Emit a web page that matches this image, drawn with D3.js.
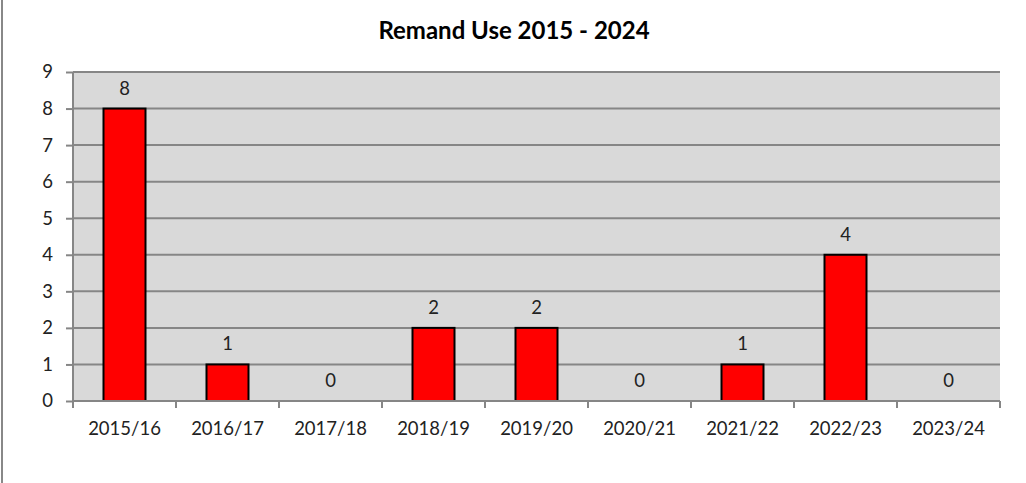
<!DOCTYPE html>
<html><head><meta charset="utf-8">
<script src="https://cdn.jsdelivr.net/npm/d3@7"></script>
<style>body{margin:0;background:#fff;} svg{display:block;}</style>
</head><body>
<svg id="chart" width="1026" height="483"></svg>
<script>
const categories = ["2015/16","2016/17","2017/18","2018/19","2019/20","2020/21","2021/22","2022/23","2023/24"];
const values = [8,1,0,2,2,0,1,4,0];
const yTicks = [0,1,2,3,4,5,6,7,8,9];
const title = "Remand Use 2015 - 2024";

const svg = d3.select("#chart");
const font = "Lato, 'Open Sans', sans-serif";
const m = {left:73, right:1000, top:72, bottom:401};
const fs = 18.5;

svg.append("line").attr("x1",2).attr("x2",2).attr("y1",0).attr("y2",483)
  .attr("stroke","#888").attr("stroke-width",2);

const xb = d3.scaleBand().domain(categories).range([m.left,m.right]);
const y = d3.scaleLinear().domain([0,9]).range([m.bottom,m.top]);

svg.append("rect").attr("x",m.left).attr("y",m.top).attr("width",m.right-m.left).attr("height",m.bottom-m.top)
  .attr("fill","#d9d9d9");

svg.append("g").selectAll("line").data(yTicks.filter(d=>d>0)).join("line")
  .attr("x1",m.left).attr("x2",m.right).attr("y1",d=>y(d)).attr("y2",d=>y(d))
  .attr("stroke","#868686").attr("stroke-width",2);

svg.append("g").selectAll("rect").data(values).join("rect")
  .attr("x",(d,i)=>xb(categories[i])+xb.bandwidth()/2-21)
  .attr("width",42)
  .attr("y",d=>y(d)).attr("height",d=>y(0)-y(d))
  .attr("fill","#ff0000").attr("stroke","#000").attr("stroke-width",2);

svg.append("g").selectAll("text").data(values).join("text")
  .attr("x",(d,i)=>xb(categories[i])+xb.bandwidth()/2)
  .attr("y",d=>y(d)-14)
  .attr("text-anchor","middle").attr("font-family",font).attr("font-size",fs).attr("fill","#222")
  .text(d=>d);

const yAxis = svg.append("g").attr("transform",`translate(${m.left},0)`)
  .call(d3.axisLeft(y).tickValues(yTicks).tickSize(7).tickPadding(13).tickFormat(d3.format("d")));
yAxis.select(".domain").attr("stroke","#868686").attr("stroke-width",2).attr("d",`M0,${m.top}V${m.bottom}`);
yAxis.selectAll(".tick line").attr("stroke","#868686").attr("stroke-width",2);
yAxis.selectAll("text").attr("font-family",font).attr("font-size",fs).attr("fill","#222");

const xAxis = svg.append("g").attr("transform",`translate(0,${m.bottom})`)
  .call(d3.axisBottom(xb).tickSize(0).tickPadding(21));
xAxis.select(".domain").attr("stroke","#868686").attr("stroke-width",2).attr("d",`M${m.left},0H${m.right}`);
xAxis.selectAll("text").attr("font-family",font).attr("font-size",fs).attr("fill","#222");
const bounds = categories.map(c=>xb(c)).concat([m.right]);
svg.append("g").selectAll("line").data(bounds).join("line")
  .attr("x1",d=>d).attr("x2",d=>d).attr("y1",m.bottom).attr("y2",m.bottom+7)
  .attr("stroke","#868686").attr("stroke-width",2);

svg.append("text").attr("x",514).attr("y",39).attr("text-anchor","middle")
  .attr("font-family",font).attr("font-weight","bold").attr("font-size",24).attr("fill","#000")
  .text(title);
</script>
</body></html>
